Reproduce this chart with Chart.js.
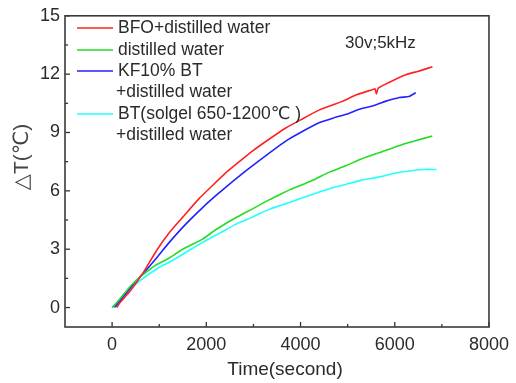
<!DOCTYPE html>
<html>
<head>
<meta charset="utf-8">
<script src="https://cdn.jsdelivr.net/npm/chart.js@4.4.1/dist/chart.umd.min.js"></script>
<style>
  html, body { margin: 0; padding: 0; background: #fff; }
  #wrap { width: 516px; height: 383px; }
</style>
</head>
<body>
<div id="wrap"><canvas id="c" width="516" height="383"></canvas></div>
<script>
// ---- data (time in seconds, ΔT in °C) ----
const seriesNames = ['BFO+distilled water', 'distilled water', 'KF10% BT +distilled water', 'BT(solgel 650-1200℃ ) +distilled water'];
const legendText = [['BFO+distilled water'], ['distilled water'], ['KF10% BT', '+distilled water'], ['BT(solgel 650-1200℃ )', '+distilled water']];

const redT = [100, 150, 400, 643, 961, 1213, 1500, 1846, 2100, 2400, 2700, 2977, 3300, 3686, 4000, 4393, 4887, 5200, 5524, 5580, 5610, 5650, 5900, 6232, 6500, 6800];
const redY = [0, 0.2, 0.9, 1.73, 3.0, 3.85, 4.65, 5.6, 6.2, 6.9, 7.5, 8.04, 8.6, 9.23, 9.65, 10.15, 10.6, 10.95, 11.2, 11.25, 10.98, 11.28, 11.6, 11.97, 12.15, 12.38];

const greenT = [0, 150, 432, 857, 1213, 1500, 1921, 2200, 2632, 3000, 3340, 3553, 3766, 4262, 4600, 4972, 5300, 5681, 6070, 6400, 6797];
const greenY = [0, 0.4, 1.21, 2.07, 2.55, 3.0, 3.52, 4.0, 4.63, 5.1, 5.55, 5.8, 6.05, 6.55, 6.95, 7.3, 7.65, 7.97, 8.31, 8.55, 8.82];

const blueT = [50, 219, 450, 715, 960, 1213, 1564, 1921, 2200, 2448, 2845, 3200, 3686, 4000, 4393, 4700, 4994, 5250, 5524, 5800, 6100, 6300, 6446];
const blueY = [0, 0.5, 1.2, 1.9, 2.6, 3.35, 4.29, 5.14, 5.75, 6.26, 7.04, 7.7, 8.56, 9.0, 9.5, 9.75, 9.95, 10.2, 10.36, 10.6, 10.8, 10.85, 11.04];

const cyanT = [0, 100, 504, 1000, 1213, 1568, 1921, 2300, 2632, 2977, 3340, 3553, 3766, 4262, 4600, 4972, 5300, 5681, 6070, 6400, 6600, 6887];
const cyanY = [0, 0.2, 1.21, 2.07, 2.33, 2.84, 3.35, 3.85, 4.29, 4.65, 5.06, 5.23, 5.4, 5.83, 6.1, 6.34, 6.55, 6.72, 6.94, 7.05, 7.1, 7.1];

const xMajorTicks = [0, 2000, 4000, 6000, 8000];
const xMinorTicks = [1000, 3000, 5000, 7000];
const yMajorTicks = [0, 3, 6, 9, 12, 15];
const yMinorTicks = [1.5, 4.5, 7.5, 10.5, 13.5];
const xTitle = 'Time(second)';
const yTitle = '△T(℃)';
const note = '30v;5kHz';

const colors = ['#ff2222', '#22dd22', '#2222ff', '#22ffff'];

function pts(t, y) { return t.map((v, i) => ({ x: v, y: y[i] })); }

const TXT = '#2b2b2b';
const FONT = '"Liberation Sans", Arial, "DejaVu Sans", sans-serif';

const decor = {
  id: 'decor',
  afterDraw(chart) {
    const { ctx, chartArea: a, scales: { x, y } } = chart;
    ctx.save();
    ctx.strokeStyle = '#333';
    ctx.lineWidth = 1.3;
    const seg = (x1, y1, x2, y2) => { ctx.beginPath(); ctx.moveTo(x1, y1); ctx.lineTo(x2, y2); ctx.stroke(); };
    xMajorTicks.forEach(v => { const p = x.getPixelForValue(v); seg(p, a.bottom, p, a.bottom - 5); });
    xMinorTicks.forEach(v => { const p = x.getPixelForValue(v); seg(p, a.bottom, p, a.bottom - 3); });
    yMajorTicks.forEach(v => { const p = y.getPixelForValue(v); seg(a.left, p, a.left + 5, p); });
    yMinorTicks.forEach(v => { const p = y.getPixelForValue(v); seg(a.left, p, a.left + 3, p); });
    ctx.lineWidth = 1.6;
    ctx.strokeStyle = '#3a3a3a';
    ctx.strokeRect(a.left, a.top, a.width, a.height);

    // legend
    ctx.font = '17.5px ' + FONT;
    ctx.textBaseline = 'middle';
    ctx.textAlign = 'left';
    const rowY = [28, 50, 71, 114];
    legendText.forEach((lines, i) => {
      const yy = rowY[i];
      ctx.strokeStyle = colors[i];
      ctx.lineWidth = 1.6;
      seg(a.left + 12, yy, a.left + 48, yy);
      ctx.fillStyle = TXT;
      ctx.fillText(lines[0], a.left + 53, yy);
      if (lines[1]) ctx.fillText(lines[1], a.left + 51, yy + 21.5);
    });

    // annotation
    ctx.font = '17px ' + FONT;
    ctx.fillText(note, 345, 43);

    // x title
    ctx.font = '19px ' + FONT;
    ctx.textAlign = 'center';
    ctx.fillText(xTitle, 285, 370);

    // y title
    ctx.save();
    ctx.translate(22, 157);
    ctx.rotate(-Math.PI / 2);
    ctx.fillStyle = '#444';
    ctx.font = '21px ' + FONT;
    ctx.fillText(yTitle, 0, 0);
    ctx.restore();

    ctx.restore();
  }
};

new Chart(document.getElementById('c'), {
  type: 'line',
  data: {
    datasets: [
      { label: seriesNames[0], data: pts(redT, redY) },
      { label: seriesNames[1], data: pts(greenT, greenY) },
      { label: seriesNames[2], data: pts(blueT, blueY) },
      { label: seriesNames[3], data: pts(cyanT, cyanY) }
    ].map((d, i) => Object.assign(d, {
      borderColor: colors[i], backgroundColor: colors[i], borderWidth: 1.6,
      pointRadius: 0, tension: 0.2, fill: false
    }))
  },
  options: {
    responsive: false,
    animation: false,
    events: [],
    layout: { padding: { top: 14, right: 24, left: 0, bottom: 0 } },
    plugins: { legend: { display: false }, tooltip: { enabled: false } },
    scales: {
      x: {
        type: 'linear', min: -1000, max: 8000,
        border: { display: false },
        grid: { display: false, drawTicks: false },
        ticks: { color: TXT, font: { size: 18, family: FONT }, padding: 7, maxRotation: 0, autoSkip: false,
                 callback: v => String(v) },
        afterBuildTicks: s => { s.ticks = xMajorTicks.map(v => ({ value: v })); },
        afterFit: s => { s.height = 56; }
      },
      y: {
        type: 'linear', min: -1, max: 15,
        border: { display: false },
        grid: { display: false, drawTicks: false },
        ticks: { color: TXT, font: { size: 18, family: FONT }, padding: 5, autoSkip: false,
                 callback: v => String(v) },
        afterBuildTicks: s => { s.ticks = yMajorTicks.map(v => ({ value: v })); },
        afterFit: s => { s.width = 65; }
      }
    }
  },
  plugins: [decor]
});
</script>
</body>
</html>
